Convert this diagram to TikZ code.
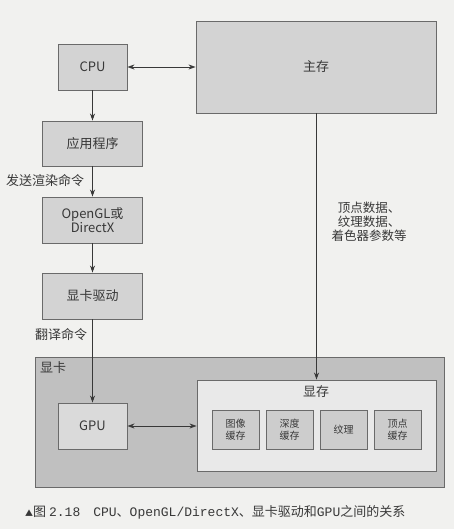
\documentclass[tikz,border=0pt]{standalone}
\usepackage{fontspec}
\newfontfamily\cjk{Noto Sans CJK SC}
\newfontfamily\capmono{Liberation Mono}
\usetikzlibrary{arrows.meta}
\definecolor{paper}{HTML}{F1F1EF}
\definecolor{edge}{HTML}{6A6A6A}
\definecolor{boxfill}{HTML}{D3D3D3}
\definecolor{cardfill}{HTML}{C0C0C0}
\definecolor{gpufill}{HTML}{DADADA}
\definecolor{vramfill}{HTML}{E9E9E9}
\definecolor{cellfill}{HTML}{CDCDCD}
\definecolor{ink}{HTML}{383838}
\tikzset{
  box/.style={draw=edge, line width=0.9pt, fill=boxfill, rectangle, inner sep=0pt, align=center, font=\cjk\fontsize{13}{13.5}\selectfont, text=ink},
  cell/.style={draw=edge, line width=0.9pt, fill=cellfill, rectangle, inner sep=0pt, align=center, minimum width=47pt, minimum height=39pt, font=\cjk\fontsize{10}{11.5}\selectfont, text=ink},
  conn/.style={draw=ink, line width=0.8pt},
  tip/.style={-{Stealth[length=7pt,width=5pt]}},
  btip/.style={{Stealth[length=7pt,width=5pt]}-{Stealth[length=7pt,width=5pt]}},
  lbl/.style={font=\cjk\fontsize{13}{14}\selectfont, text=ink, inner sep=0pt, align=center}
}
\begin{document}
\begin{tikzpicture}[x=1pt,y=-1pt]
\fill[paper] (0,0) rectangle (454,529);
\useasboundingbox (0,0) rectangle (454,529);
% nodes
\node[box, minimum width=69pt, minimum height=46pt] (cpu) at (92.5,67) {CPU};
\node[box, minimum width=240pt, minimum height=92pt] (mem) at (316,67) {主存};
\node[box, minimum width=100pt, minimum height=45pt] (app) at (92.5,143.5) {应用程序};
\node[box, minimum width=100pt, minimum height=46pt] (api) at (92.5,220) {OpenGL或\\DirectX};
\node[box, minimum width=100pt, minimum height=46pt] (drv) at (92.5,296) {显卡驱动};
\node[box, fill=cardfill, minimum width=409pt, minimum height=130pt] (card) at (239.5,422) {};
\node[lbl, anchor=west] (cardlbl) at (40,368) {显卡};
\node[box, fill=gpufill, minimum width=69pt, minimum height=46pt] (gpu) at (92.5,426) {GPU};
\node[box, fill=vramfill, minimum width=239pt, minimum height=91pt] (vram) at (316.5,425.5) {};
\node[lbl] (vramlbl) at (316,392) {显存};
\node[cell] (c1) at (235.5,429.5) {图像\\缓存};
\node[cell] (c2) at (289.5,429.5) {深度\\缓存};
\node[cell] (c3) at (343.5,429.5) {纹理};
\node[cell] (c4) at (397.5,429.5) {顶点\\缓存};
% labels
\node[lbl, anchor=west] (l1) at (6,181) {发送渲染命令};
\node[lbl, anchor=west] (l2) at (35,335) {翻译命令};
\node[lbl, font=\cjk\fontsize{12.5}{14}\selectfont] (l3) at (369,222) {顶点数据、\\纹理数据、\\着色器参数等};
% connectors
\draw[conn, btip] (cpu.east) -- (mem.west |- cpu.east);
\draw[conn, tip] (cpu.south) -- (app.north);
\draw[conn, tip] (app.south) -- (api.north);
\draw[conn, tip] (api.south) -- (drv.north);
\draw[conn, tip] (drv.south) -- (gpu.north);
\draw[conn, tip] (mem.south -| vram.north) -- (vram.north);
\draw[conn, btip] (gpu.east) -- (vram.west |- gpu.east);
% caption
\node[font=\cjk\fontsize{13}{14}\selectfont, text=ink, anchor=west, inner sep=0pt] (cap) at (25,512) {{\fontsize{8}{9}\selectfont▲}图 {\capmono 2.18}\quad{\capmono CPU}、{\capmono OpenGL/DirectX}、显卡驱动和{\capmono GPU}之间的关系};
\end{tikzpicture}
\end{document}
